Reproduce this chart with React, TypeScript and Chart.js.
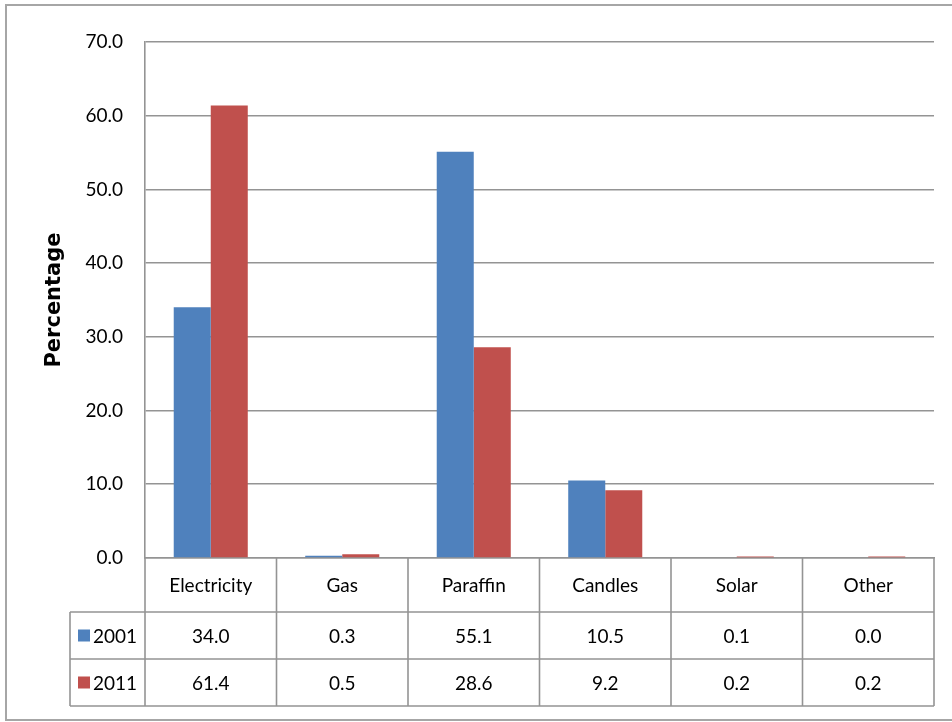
import React, { useEffect, useRef } from "react";
import { Chart, registerables } from "chart.js";

Chart.register(...registerables);

const categories = ["Electricity", "Gas", "Paraffin", "Candles", "Solar", "Other"];
const seriesLabels = ["2001", "2011"];
const values2001 = [34.0, 0.3, 55.1, 10.5, 0.1, 0.0];
const values2011 = [61.4, 0.5, 28.6, 9.2, 0.2, 0.2];
const seriesColors = ["#4F81BD", "#C0504D"];
const yTicks = [0, 10, 20, 30, 40, 50, 60, 70];

const FONT = "Lato, 'Open Sans', sans-serif";
const LINE = "#949494";

const framePlugin = {
  id: "frame",
  beforeDraw(chart: any) {
    const { ctx, width, height } = chart;
    ctx.save();
    ctx.fillStyle = "#fff";
    ctx.fillRect(0, 0, width, height);
    ctx.strokeStyle = "#a6a6a6";
    ctx.lineWidth = 2;
    ctx.strokeRect(6, 5, width, height - 7);
    ctx.restore();
  },
};

const tablePlugin = {
  id: "dataTable",
  afterDraw(chart: any) {
    const { ctx, chartArea } = chart;
    const x = chart.scales.x;
    const n = categories.length;
    const colW = x.getPixelForValue(1) - x.getPixelForValue(0);
    const right = chartArea.right;
    const top = chartArea.bottom;
    const headerH = 54;
    const rowH = 47;
    const legendLeft = 70;
    const rowsTop = top + headerH;
    const bottom = rowsTop + rowH * 2;

    ctx.save();
    ctx.strokeStyle = LINE;
    ctx.lineWidth = 1.6;
    ctx.beginPath();
    for (let r = 0; r <= 2; r++) {
      const y = rowsTop + rowH * r;
      ctx.moveTo(legendLeft, y);
      ctx.lineTo(right, y);
    }
    for (let i = 0; i <= n; i++) {
      const bx = x.getPixelForValue(0) - colW / 2 + colW * i;
      ctx.moveTo(bx, top);
      ctx.lineTo(bx, bottom);
    }
    ctx.moveTo(legendLeft, rowsTop);
    ctx.lineTo(legendLeft, bottom);
    ctx.stroke();

    ctx.fillStyle = "#000";
    ctx.font = `19px ${FONT}`;
    ctx.textBaseline = "middle";
    const rows = [values2001, values2011];
    rows.forEach((vals, r) => {
      const cy = rowsTop + rowH * r + rowH / 2;
      ctx.fillStyle = seriesColors[r];
      ctx.fillRect(78, cy - 6, 12, 12);
      ctx.fillStyle = "#000";
      ctx.textAlign = "left";
      ctx.fillText(seriesLabels[r], 93, cy + 1);
      ctx.textAlign = "center";
      vals.forEach((v, i) => {
        ctx.fillText(v.toFixed(1), x.getPixelForValue(i), cy + 1);
      });
    });
    ctx.restore();
  },
};

export default function App() {
  const ref = useRef<HTMLCanvasElement | null>(null);

  useEffect(() => {
    if (!ref.current) return;
    const chart = new Chart(ref.current, {
      type: "bar",
      data: {
        labels: categories,
        datasets: [
          { label: seriesLabels[0], data: values2001, backgroundColor: seriesColors[0] },
          { label: seriesLabels[1], data: values2011, backgroundColor: seriesColors[1] },
        ],
      },
      options: {
        animation: false,
        responsive: false,
        devicePixelRatio: 1,
        layout: { padding: { top: 42, right: 18, left: 0, bottom: 0 } },
        datasets: { bar: { categoryPercentage: 0.563, barPercentage: 1.0 } },
        plugins: {
          legend: { display: false },
          tooltip: { enabled: false },
        },
        scales: {
          x: {
            grid: { display: false, drawTicks: false },
            border: { display: true, color: LINE, width: 1.6 },
            ticks: {
              color: "#000",
              font: { family: FONT, size: 19 },
              padding: 16,
              maxRotation: 0,
            },
            afterFit: (s: any) => {
              s.height = 164;
            },
          },
          y: {
            min: 0,
            max: 70,
            afterBuildTicks: (s: any) => {
              s.ticks = yTicks.map((v) => ({ value: v }));
            },
            grid: { color: LINE, lineWidth: 1.6, drawTicks: false },
            border: { display: true, color: LINE, width: 1.6 },
            ticks: {
              color: "#000",
              font: { family: FONT, size: 19 },
              padding: 22,
              callback: (v: any) => Number(v).toFixed(1),
            },
            title: {
              display: true,
              text: "Percentage",
              color: "#000",
              font: { family: "'DejaVu Sans', Arial, sans-serif", size: 21, weight: "bold" },
              padding: { top: 42, bottom: 0 },
            },
            afterFit: (s: any) => {
              s.width = 145;
            },
          },
        },
      },
      plugins: [framePlugin, tablePlugin],
    });
    return () => chart.destroy();
  }, []);

  return (
    <div style={{ position: "absolute", left: 0, top: 0, width: 952, height: 722 }}>
      <canvas ref={ref} width={952} height={722} />
    </div>
  );
}
